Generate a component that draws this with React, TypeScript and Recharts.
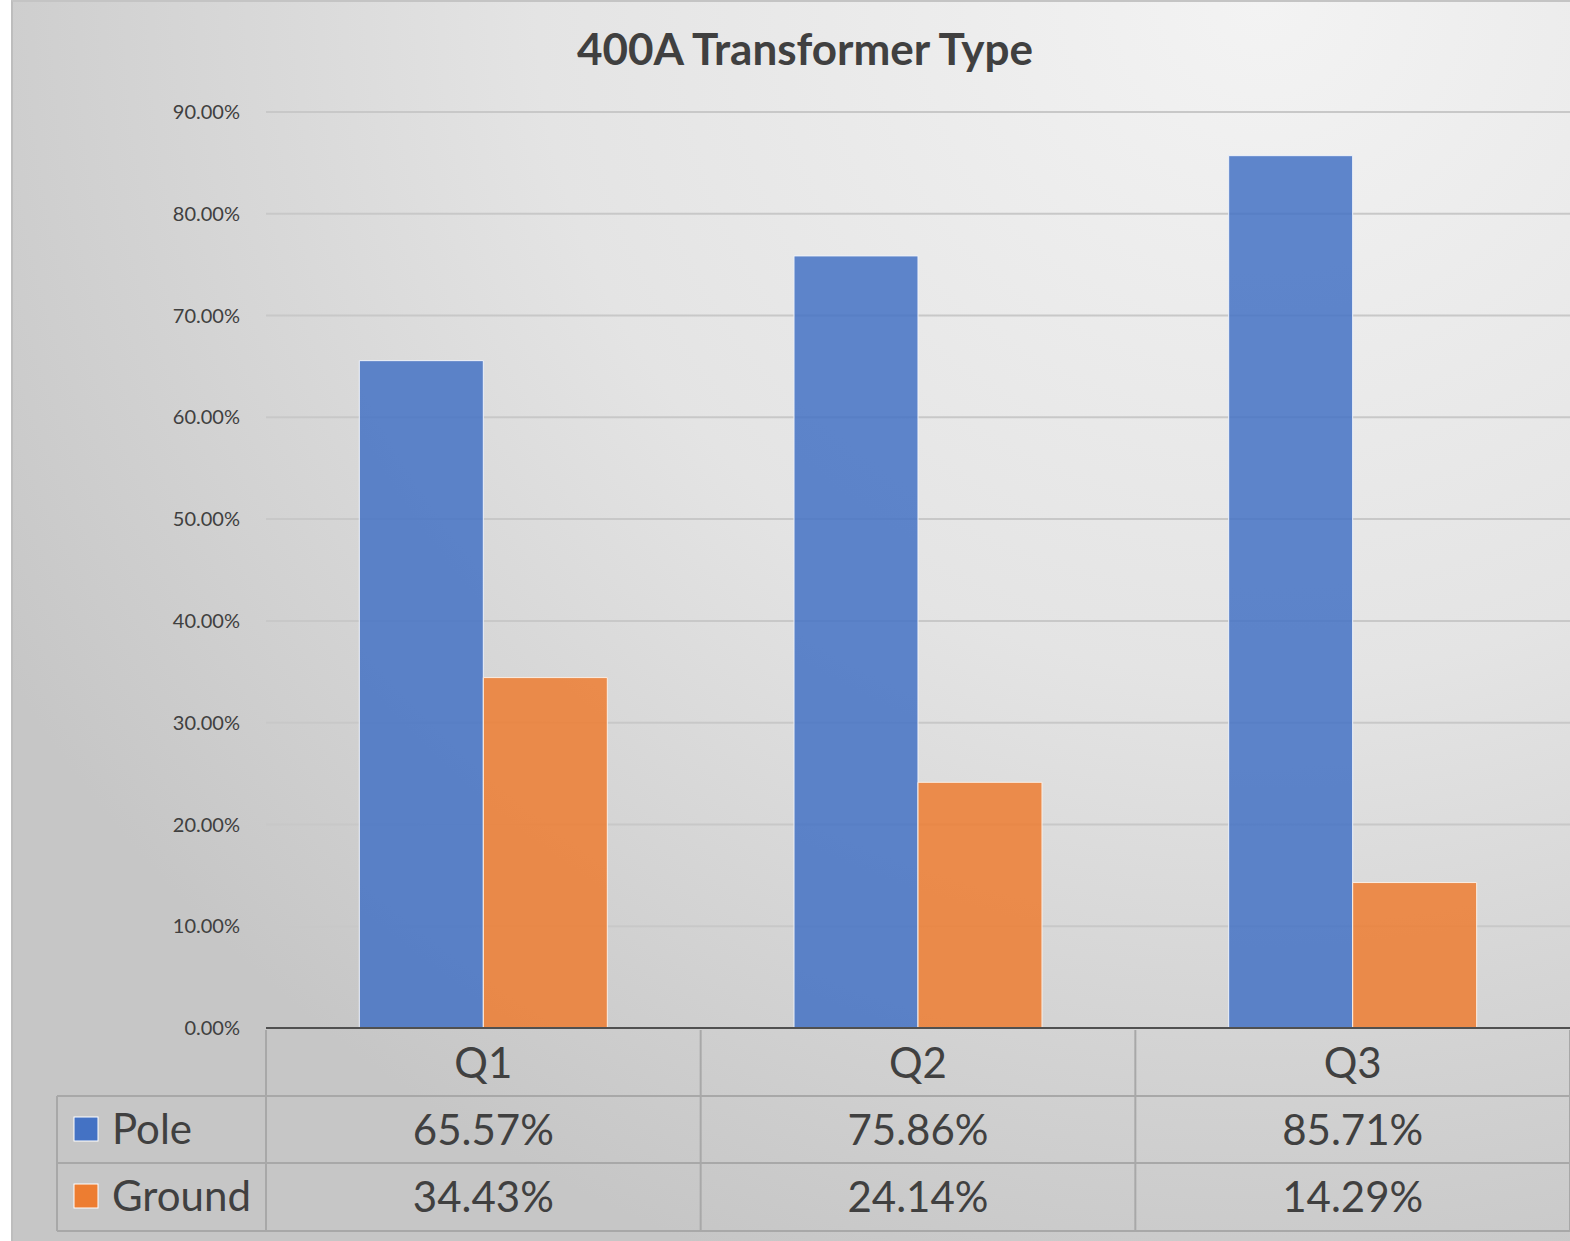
import React from 'react'
import { BarChart, Bar, XAxis, YAxis, CartesianGrid, ReferenceLine } from 'recharts'

const quarters = ['Q1', 'Q2', 'Q3']
const pole = [0.6557, 0.7586, 0.8571]
const ground = [0.3443, 0.2414, 0.1429]
const yTicks = [0, 0.1, 0.2, 0.3, 0.4, 0.5, 0.6, 0.7, 0.8, 0.9]

const data = quarters.map((q, i) => ({ quarter: q, pole: pole[i], ground: ground[i] }))

const W = 1570
const H = 1241
const X_AXIS_H = 213
const Y_AXIS_W = 266
const margin = { top: 112, right: 0, bottom: 0, left: 0 }
const BAND = (W - margin.left - margin.right - Y_AXIS_W) / quarters.length
const ROW_H = 67
const FONT = 'Lato, "Open Sans", sans-serif'
const TEXT = '#404040'
const TABLE_LINE = '#a8a8a8'
const BLUE = '#4472C4'
const ORANGE = '#ED7D31'

const pct = (v: number) => `${(v * 100).toFixed(2)}%`

const rows = [
  { name: 'Pole', color: BLUE, values: pole },
  { name: 'Ground', color: ORANGE, values: ground },
]

// column of the data table under each category
const TableTick = (props: any) => {
  const { x, y, payload, index } = props
  const left = x - BAND / 2
  const right = x + BAND / 2
  return (
    <g>
      <line x1={left} y1={y + 2} x2={left} y2={y + 2 + ROW_H * 3} stroke={TABLE_LINE} strokeWidth={2} />
      {index === quarters.length - 1 && (
        <line x1={right} y1={y + 2} x2={right} y2={y + 2 + ROW_H * 3} stroke={TABLE_LINE} strokeWidth={2} />
      )}
      <text x={x} y={y + 34} textAnchor="middle" dominantBaseline="central" fontSize={42} fill={TEXT} fontFamily={FONT}>
        {payload.value}
      </text>
      {rows.map((r, ri) => (
        <g key={r.name}>
          <line
            x1={index === 0 ? left - 209 : left}
            y1={y + 68 + ri * ROW_H}
            x2={right}
            y2={y + 68 + ri * ROW_H}
            stroke={TABLE_LINE}
            strokeWidth={2}
          />
          <text x={x} y={y + 101 + ri * ROW_H} textAnchor="middle" dominantBaseline="central" fontSize={42} fill={TEXT} fontFamily={FONT}>
            {pct(r.values[index])}
          </text>
          {index === 0 && (
            <g>
              <rect x={left - 192} y={y + 89 + ri * ROW_H} width={24} height={24} fill={r.color} stroke="#ffffff" strokeWidth={1} />
              <text x={left - 154} y={y + 100 + ri * ROW_H} dominantBaseline="central" fontSize={42} fill={TEXT} fontFamily={FONT}>
                {r.name}
              </text>
            </g>
          )}
        </g>
      ))}
      {index === 0 && (
        <g>
          <line x1={left - 209} y1={y + 68} x2={left - 209} y2={y + 2 + ROW_H * 3} stroke={TABLE_LINE} strokeWidth={2} />
          <line x1={left - 209} y1={y + 2 + ROW_H * 3} x2={W} y2={y + 2 + ROW_H * 3} stroke={TABLE_LINE} strokeWidth={2} />
        </g>
      )}
    </g>
  )
}

const App: React.FC = () => {
  return (
    <div style={{ position: 'absolute', left: 0, top: 0, width: W, height: H, background: '#ffffff', overflow: 'hidden' }}>
      <div
        style={{
          position: 'absolute',
          left: 11,
          top: 0,
          width: W - 11,
          height: H,
          background: 'radial-gradient(ellipse 1450px 1350px at 1250px 0px, #f3f3f3 0%, #e4e4e4 50%, #c6c6c6 100%)',
          borderLeft: '2px solid #bdbdbd',
          borderTop: '2px solid #c4c4c4',
          boxSizing: 'border-box',
        }}
      />
      <div
        style={{
          position: 'absolute',
          left: 0,
          width: 1610,
          top: 22,
          textAlign: 'center',
          fontFamily: FONT,
          fontWeight: 700,
          fontSize: 44,
          color: TEXT,
        }}
      >
        400A Transformer Type
      </div>
      <div style={{ position: 'absolute', left: 0, top: 0 }}>
        <BarChart width={W} height={H} data={data} margin={margin} barCategoryGap="21.47%" barGap={0}>
          <CartesianGrid horizontal vertical={false} stroke="#c8c8c8" strokeWidth={2} />
          <XAxis
            dataKey="quarter"
            axisLine={false}
            tickLine={false}
            tickSize={0}
            tickMargin={0}
            height={X_AXIS_H}
            interval={0}
            tick={<TableTick />}
          />
          <YAxis
            width={Y_AXIS_W}
            domain={[0, 0.9]}
            ticks={yTicks}
            axisLine={false}
            tickLine={false}
            tickMargin={20}
            tickFormatter={pct}
            tick={{ fontSize: 20, fill: TEXT, fontFamily: FONT }}
          />
          <Bar dataKey="pole" name="Pole" fill={BLUE} fillOpacity={0.85} stroke="#eef2fa" strokeWidth={1} isAnimationActive={false} />
          <Bar dataKey="ground" name="Ground" fill={ORANGE} fillOpacity={0.85} stroke="#fbeee4" strokeWidth={1} isAnimationActive={false} />
          <ReferenceLine y={0} stroke="#505050" strokeWidth={2} />
        </BarChart>
      </div>
    </div>
  )
}

export default App
